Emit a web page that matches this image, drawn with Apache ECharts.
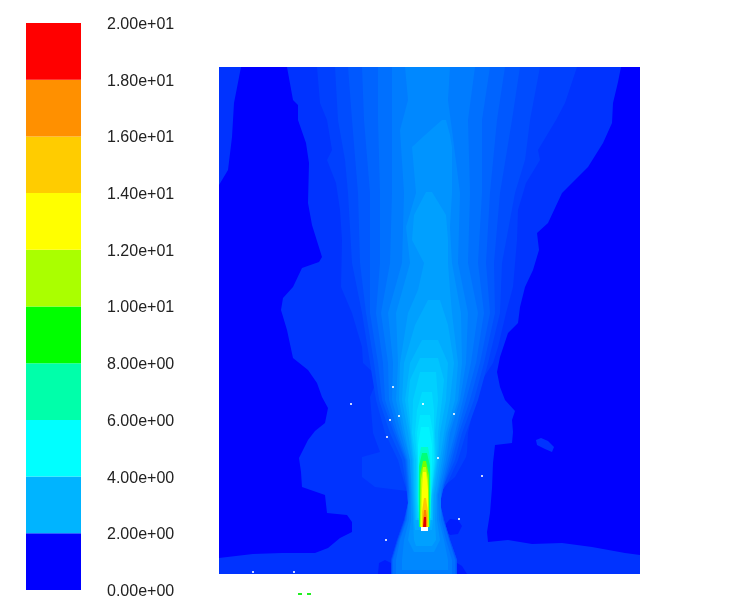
<!DOCTYPE html>
<html>
<head>
<meta charset="utf-8">
<title>Contours of velocity magnitude</title>
<style>
  html, body { margin: 0; padding: 0; background: #fff; }
  #viewData { width: 738px; height: 605px; }
</style>
<script src="https://cdn.jsdelivr.net/npm/echarts@6/dist/echarts.min.js"></script>
</head>
<body>
<div id="viewData"></div>
<script>
// colour bar
var tickLabels = ["0.00e+00", "2.00e+00", "4.00e+00", "6.00e+00", "8.00e+00", "1.00e+01", "1.20e+01", "1.40e+01", "1.60e+01", "1.80e+01", "2.00e+01"];
var barBands = [2, 2, 2, 2, 2, 2, 2, 2, 2, 2];
var barColors = ["#0000ff", "#00b4ff", "#00ffff", "#00ffaa", "#00ff00", "#aaff00", "#ffff00", "#ffcc00", "#ff9000", "#ff0000"];

// contour outlines, closed rings [x, y]
var ringTopLeft = [[219,67],[241,67],[234,103],[232,137],[228,170],[219,185]];
var ringOuter = [[287,67],[293,100],[298,105],[298,120],[306,143],[309,163],[308,203],[312,225],[322,257],[319,262],[302,268],[293,287],[283,298],[281,310],[287,330],[293,358],[308,370],[317,383],[322,397],[328,408],[325,423],[315,431],[308,440],[299,458],[301,472],[302,487],[325,495],[327,513],[347,515],[352,522],[352,532],[340,538],[328,548],[315,553],[282,553],[253,554],[219,558],[219,574],[640,574],[640,555],[625,553],[592,547],[562,543],[532,544],[508,540],[488,542],[487,532],[490,513],[492,488],[493,463],[495,445],[512,443],[513,432],[512,420],[515,411],[505,400],[500,387],[497,372],[500,357],[508,333],[518,323],[520,307],[525,287],[533,270],[539,250],[537,233],[548,223],[562,193],[568,187],[588,167],[603,143],[612,123],[613,103],[618,82],[621,67]];
var ringIsle = [[536,440],[541,438],[548,441],[554,447],[552,452],[545,449],[537,445]];
var ringPocketA = [[378,574],[379,563],[385,560],[391,563],[391,574]];
var ringPocketB = [[457,563],[462,566],[467,574],[457,574]];
var ringPocketC = [[445,525],[450,519],[458,520],[462,526],[458,534],[450,535],[446,531]];

// contour bands, rows [y, xLeft, xRight]
var band2 = [[67,317,577],[103,320,565],[120,327,556],[150,332,538],[160,327,540],[183,336,526],[210,340,518],[240,342,517],[287,341,513],[313,352,506],[347,362,498],[363,363,493],[377,378,484],[397,370,476],[433,373,468],[452,380,467],[457,362,466],[477,362,455],[487,375,443],[491,407,442],[503,408,440],[520,404,444],[540,397,450],[560,391,457],[574,391,457]];
var band3 = [[67,335,540],[120,338,530],[160,345,525],[193,348,515],[263,352,502],[313,362,500],[363,370,488],[400,376,478],[433,385,466],[460,398,458],[482,404,448],[491,407,442],[503,408,440],[520,404,444],[540,397,450],[560,391,457],[574,391,457]];
var band4 = [[67,348,520],[120,352,512],[193,358,500],[263,360,494],[313,366,495],[363,374,484],[400,379,474],[433,390,462],[460,402,455],[485,406,444],[503,408,440],[520,405,444],[540,398,450],[560,392,457],[574,392,457]];
var band5 = [[67,362,505],[120,364,497],[193,370,490],[263,370,486],[313,370,490],[363,378,480],[400,382,470],[433,394,459],[460,405,452],[485,407,444],[503,408,440],[520,405,443],[540,398,449],[560,392,456],[574,392,456]];
var band6 = [[67,378,490],[120,378,482],[193,380,482],[263,380,478],[313,376,484],[363,383,476],[400,385,466],[433,396,457],[460,406,450],[485,408,443],[503,409,440],[520,406,443],[540,399,449],[560,393,455],[574,393,455]];
var band7 = [[67,392,475],[120,392,468],[193,392,470],[263,390,468],[313,381,478],[363,388,471],[400,389,463],[433,398,455],[460,407,448],[490,409,441],[520,407,441],[540,400,446],[560,396,452],[574,396,452]];
var band8 = [[67,405,450],[100,408,448],[130,400,452],[193,404,460],[263,402,458],[313,388,468],[363,393,466],[400,392,460],[433,401,450],[460,408,446],[495,410,438],[520,409,439],[540,404,444],[560,402,448],[570,402,448]];
var band9 = [[120,442,446],[135,425,450],[147,412,452],[193,416,452],[227,406,450],[263,410,452],[313,396,461],[363,398,462],[400,396,458],[433,403,448],[460,410,444],[495,411,437],[520,411,437],[540,408,440],[552,414,434]];
var band10 = [[192,426,432],[215,414,446],[240,412,448],[263,424,448],[290,418,450],[313,408,452],[363,400,458],[400,399,455],[433,405,446],[460,410,442],[495,412,436],[520,413,435],[540,414,436],[546,416,432]];
var band11 = [[300,428,440],[325,415,448],[363,404,454],[400,402,450],[433,408,444],[460,412,440],[495,413,434],[520,414,433],[530,415,432]];
var band12 = [[340,422,438],[363,410,448],[400,405,446],[433,410,440],[460,413,438],[495,414,433],[520,415,433]];
var band13 = [[358,420,438],[380,410,444],[400,408,442],[433,411,438],[460,414,437],[495,415,432],[520,416,432]];
var band14 = [[372,420,436],[400,413,438],[433,412,435],[460,416,436],[495,416,431],[518,417,431]];
var band15 = [[392,422,432],[410,417,434],[433,415,434],[460,417,435],[500,417,431],[512,418,430]];
var band16 = [[415,420,430],[433,417,433],[460,418,434],[505,418,430]];
var band17 = [[427,421,429],[445,418,432],[465,418,432],[500,419,430]];

// jet core
var core1 = [[447,421,428],[458,419,430],[495,418,431],[527,419,430]];
var core2 = [[453,422,427],[466,419,430],[490,419,430],[527,419,430]];
var core3 = [[461,423,426],[475,420,429],[527,420,429]];
var core4 = [[467,423,426],[480,421,428],[527,420,429]];
var core5 = [[472,423,426],[490,422,428],[527,421,428]];
var core6 = [[498,424,426],[512,422,428],[527,422,428]];
var core7 = [[510,424,426],[520,423,427],[527,423,427]];
var core8 = [[517,424,426],[527,423,426]];

var bandRows = [band2, band3, band4, band5, band6, band7, band8, band9, band10, band11, band12, band13, band14, band15, band16, band17, core1, core2, core3, core4, core5, core6, core7, core8];
var bandColors = ["#0040ff", "#004cff", "#0058ff", "#0064ff", "#0070ff", "#007cff", "#0088ff", "#0094ff", "#00a0ff", "#00acff", "#00b8ff", "#00c4ff", "#00d0ff", "#00dcff", "#00e8ff", "#00f4ff", "#00ffc8", "#00ff78", "#70ff00", "#c0ff00", "#ffff00", "#ffc800", "#ff8000", "#e00000"];

// stray particles
var particles = [[351,404],[423,404],[399,416],[390,420],[454,414],[387,437],[438,458],[482,476],[459,519],[386,540],[253,572],[294,572],[393,387]];
// nozzle block
var nozzle = [[421,527],[428,527],[428,531],[421,531]];

var OUTER_COLOR = "#0033ff";
var POCKET_COLOR = "#001cff";

function rowsToRing(rows) {
  var left = rows.map(function (r) { return [r[1], r[0]]; });
  var right = rows.map(function (r) { return [r[2], r[0]]; }).reverse();
  return left.concat(right);
}

// paint order: field floor first, jet core last
var shapes = [
  { ring: ringTopLeft, color: OUTER_COLOR },
  { ring: ringOuter, color: OUTER_COLOR },
  { ring: ringIsle, color: OUTER_COLOR },
  { ring: ringPocketA, color: POCKET_COLOR },
  { ring: ringPocketB, color: POCKET_COLOR },
  { ring: ringPocketC, color: POCKET_COLOR }
];
bandRows.forEach(function (rows, i) {
  shapes.push({ ring: rowsToRing(rows), color: bandColors[i] });
});
shapes.push({ ring: nozzle, color: "#ffffff" });

var barSeries = barBands.map(function (size, i) {
  return {
    type: "bar",
    stack: "bar",
    xAxisIndex: 0,
    yAxisIndex: 0,
    barWidth: "100%",
    silent: true,
    itemStyle: { color: barColors[i] },
    data: [size]
  };
});

var myChart = echarts.init(document.getElementById("viewData"), null, { renderer: "canvas" });
myChart.setOption({
  animation: false,
  backgroundColor: "#ffffff",
  // tips of the cut-off axis triad under the plot
  graphic: [
    { type: "rect", left: 298, top: 593, shape: { width: 4, height: 2 }, style: { fill: "#22ee22" }, silent: true },
    { type: "rect", left: 307, top: 593, shape: { width: 4, height: 2 }, style: { fill: "#22ee22" }, silent: true }
  ],
  grid: [
    { left: 26, top: 23, width: 55, height: 567 },
    { left: 219, top: 67, width: 421, height: 507, show: true, backgroundColor: "#0000ff", borderWidth: 0 }
  ],
  xAxis: [
    { gridIndex: 0, type: "category", data: [""], show: false },
    { gridIndex: 1, type: "value", min: 219, max: 640, show: false }
  ],
  yAxis: [
    {
      gridIndex: 0,
      type: "value",
      min: 0,
      max: 20,
      interval: 2,
      position: "right",
      axisLine: { show: false },
      axisTick: { show: false },
      splitLine: { show: false },
      axisLabel: {
        margin: 26,
        showMinLabel: true,
        showMaxLabel: true,
        formatter: function (v) { return "{t|" + tickLabels[Math.round(v / 2)] + "}"; },
        rich: {
          t: { fontFamily: "Liberation Sans", fontSize: 16, color: "#222", padding: [3, 0, 0, 0] }
        }
      }
    },
    { gridIndex: 1, type: "value", min: 67, max: 574, inverse: true, show: false }
  ],
  series: barSeries.concat([
    {
      type: "custom",
      xAxisIndex: 1,
      yAxisIndex: 1,
      coordinateSystem: "cartesian2d",
      silent: true,
      clip: true,
      data: shapes.map(function (s, i) { return [i]; }),
      renderItem: function (params, api) {
        var s = shapes[params.dataIndex];
        return {
          type: "polygon",
          shape: { points: s.ring.map(function (p) { return api.coord(p); }) },
          style: { fill: s.color }
        };
      }
    },
    {
      type: "scatter",
      xAxisIndex: 1,
      yAxisIndex: 1,
      symbol: "rect",
      symbolSize: 2,
      silent: true,
      itemStyle: { color: "#ffffff" },
      data: particles
    }
  ])
});
</script>
</body>
</html>
